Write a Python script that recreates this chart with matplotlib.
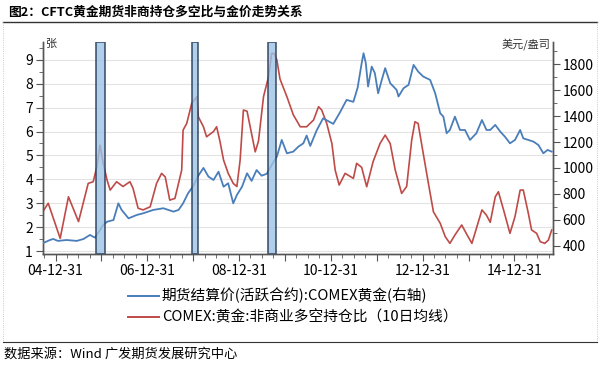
import matplotlib
matplotlib.use("Agg")
import matplotlib.pyplot as plt
import matplotlib.dates as mdates
from matplotlib.lines import Line2D
import numpy as np
import pandas as pd

plt.rcParams['font.family'] = ['Noto Sans CJK SC', 'DejaVu Sans']

title = "图2：CFTC黄金期货非商持仓多空比与金价走势关系"
source = "数据来源：Wind 广发期货发展研究中心"
label_gold = "期货结算价(活跃合约):COMEX黄金(右轴)"
label_ratio = "COMEX:黄金:非商业多空持仓比（10日均线）"

# 多空持仓比 (left axis)
ratio_dates = [
    "2004-09-20", "2004-11-03", "2005-02-06", "2005-04-13", "2005-07-02", "2005-08-08",
    "2005-09-17", "2005-10-27", "2005-11-25", "2005-12-20", "2006-01-15", "2006-02-14",
    "2006-03-11", "2006-05-01", "2006-06-21", "2006-08-15", "2006-09-09", "2006-10-19",
    "2006-11-28", "2007-01-23", "2007-03-15", "2007-04-24", "2007-05-23", "2007-06-28",
    "2007-08-08", "2007-10-01", "2007-10-12", "2007-11-10", "2007-12-20", "2008-01-30",
    "2008-02-10", "2008-03-22", "2008-04-16", "2008-05-16", "2008-06-10", "2008-07-05",
    "2008-07-31", "2008-08-29", "2008-10-05", "2008-11-14", "2008-12-13", "2009-01-08",
    "2009-02-03", "2009-03-04", "2009-03-29", "2009-05-08", "2009-06-03", "2009-07-13",
    "2009-08-22", "2009-09-16", "2009-10-05", "2009-10-27", "2009-11-21", "2010-01-15",
    "2010-03-07", "2010-05-01", "2010-06-21", "2010-08-15", "2010-09-24", "2010-10-19",
    "2010-11-28", "2011-01-08", "2011-02-03", "2011-03-07", "2011-04-23", "2011-06-28",
    "2011-07-24", "2011-09-02", "2011-10-12", "2011-12-02", "2012-01-26", "2012-03-07",
    "2012-04-16", "2012-05-26", "2012-07-16", "2012-08-25", "2012-10-04", "2012-10-30",
    "2012-11-24", "2013-01-04", "2013-02-14", "2013-03-26", "2013-05-19", "2013-06-28",
    "2013-08-04", "2013-09-13", "2013-11-06", "2013-12-16", "2014-01-26", "2014-03-07",
    "2014-04-16", "2014-05-22", "2014-06-21", "2014-07-31", "2014-08-25", "2014-10-05",
    "2014-11-25", "2015-01-04", "2015-02-14", "2015-03-11", "2015-04-20", "2015-05-16",
    "2015-06-25", "2015-07-24", "2015-08-29", "2015-09-27", "2015-10-23",
]
ratio_values = [
    2.64, 3.0, 1.53, 3.27, 2.23, 3.0,
    3.83, 3.9, 4.53, 5.43, 4.67, 3.97,
    3.55, 3.9, 3.7, 3.9, 3.62, 2.79,
    2.72, 2.85, 3.83, 4.25, 4.1, 3.13,
    3.2, 4.39, 6.06, 6.34, 7.18, 7.46,
    6.62, 6.2, 5.78, 5.9, 6.0, 6.2,
    5.6, 4.81, 4.25, 3.83, 3.7, 4.81,
    6.9, 6.85, 6.2, 5.15, 5.6, 7.46,
    8.29, 9.27, 9.27, 9.0, 8.2, 7.46,
    6.7, 6.2, 6.2, 6.48, 7.04, 6.9,
    6.34, 5.5, 4.39, 3.76, 4.25, 4.04,
    4.67, 4.5, 3.69, 4.74, 5.5, 5.85,
    5.5, 4.39, 3.41, 3.7, 5.64, 6.41,
    6.34, 5.08, 3.83, 2.64, 2.16, 1.6,
    1.32, 1.67, 2.09, 1.7, 1.32, 2.02,
    2.72, 2.5, 2.2, 3.27, 3.48, 2.72,
    1.74, 2.44, 3.55, 3.55, 2.58, 1.88,
    1.74, 1.39, 1.32, 1.46, 1.88,
]

# COMEX黄金 (right axis, 美元/盎司)
gold_dates = [
    "2004-09-20", "2004-11-17", "2004-12-13", "2005-01-19", "2005-03-29", "2005-06-18",
    "2005-08-11", "2005-10-01", "2005-11-10", "2005-12-20", "2006-01-15", "2006-02-14",
    "2006-04-06", "2006-05-15", "2006-06-10", "2006-08-04", "2006-10-08", "2006-11-28",
    "2007-02-17", "2007-05-08", "2007-07-27", "2007-09-06", "2007-10-12", "2007-11-21",
    "2008-01-01", "2008-02-10", "2008-03-22", "2008-05-01", "2008-06-10", "2008-07-20",
    "2008-08-29", "2008-10-05", "2008-11-14", "2008-12-13", "2009-01-23", "2009-03-04",
    "2009-04-09", "2009-05-19", "2009-06-28", "2009-08-08", "2009-09-16", "2009-10-27",
    "2009-12-05", "2010-01-15", "2010-03-07", "2010-04-16", "2010-05-26", "2010-06-21",
    "2010-07-20", "2010-09-09", "2010-10-30", "2011-01-19", "2011-03-14", "2011-05-05",
    "2011-06-28", "2011-08-01", "2011-09-02", "2011-09-17", "2011-10-05", "2011-10-23",
    "2011-11-21", "2011-12-16", "2012-01-11", "2012-02-09", "2012-03-07", "2012-04-16",
    "2012-06-06", "2012-06-21", "2012-07-31", "2012-09-09", "2012-10-19", "2012-11-24",
    "2013-01-04", "2013-02-28", "2013-04-09", "2013-05-19", "2013-06-13", "2013-07-09",
    "2013-08-04", "2013-09-13", "2013-10-23", "2013-12-02", "2014-01-11", "2014-03-03",
    "2014-04-16", "2014-05-22", "2014-06-21", "2014-07-31", "2014-09-09", "2014-10-16",
    "2014-11-25", "2015-01-04", "2015-02-14", "2015-03-11", "2015-04-20", "2015-05-31",
    "2015-07-09", "2015-08-18", "2015-09-20", "2015-10-23",
]
gold_values = [
    419, 444, 452, 437, 444, 437,
    452, 483, 462, 521, 560, 585,
    598, 727, 676, 611, 637, 650,
    676, 689, 663, 676, 727, 805,
    860, 940, 1000, 933, 907, 971,
    855, 882, 727, 791, 855, 959,
    900, 984, 940, 955, 1023, 1087,
    1216, 1113, 1126, 1164, 1190, 1250,
    1170, 1290, 1383, 1340, 1430, 1525,
    1510, 1620, 1808, 1885, 1808, 1628,
    1782, 1731, 1576, 1679, 1770, 1654,
    1602, 1551, 1615, 1641, 1795, 1744,
    1705, 1679, 1576, 1422, 1396, 1268,
    1293, 1396, 1293, 1293, 1216, 1268,
    1370, 1293, 1293, 1332, 1280, 1241,
    1190, 1216, 1293, 1228, 1216, 1203,
    1177, 1113, 1139, 1126,
]

# 高亮区间
span_starts = ["2005-11-18", "2007-12-20", "2009-08-15"]
span_ends = ["2006-01-25", "2008-02-10", "2009-10-20"]

ratio_x = pd.to_datetime(ratio_dates)
gold_x = pd.to_datetime(gold_dates)

blue = "#4A7EBB"
red = "#BE4B48"

fig = plt.figure(figsize=(6, 3.66), dpi=100)
ax = fig.add_axes([42.7 / 600, 1 - 254 / 366, 510 / 600, (254 - 41.7) / 366])
ax2 = ax.twinx()

ax.plot(ratio_x, ratio_values, color=red, lw=1.2, zorder=3)
ax2.plot(gold_x, gold_values, color=blue, lw=1.3, zorder=3)

for s, e in zip(span_starts, span_ends):
    ax2.axvspan(pd.Timestamp(s), pd.Timestamp(e), facecolor="#9DC3E6", alpha=0.8,
                edgecolor="#2B3F5C", lw=1.3, zorder=5)

ax.set_xlim(pd.Timestamp("2004-09-20"), pd.Timestamp("2015-10-31"))
ax.set_ylim(0.875, 9.76)
ax2.set_ylim(336, 1974)

ax.set_yticks(np.arange(1, 10, 1))
ax.set_yticks(np.arange(1.5, 10, 1), minor=True)
ax2.set_yticks(np.arange(400, 1801, 200))
ax2.set_yticks(np.arange(500, 1901, 200), minor=True)

ax.xaxis.set_major_locator(mdates.YearLocator(1, month=12, day=31))
ax.xaxis.set_minor_locator(mdates.MonthLocator(bymonth=[3, 6, 9, 12], bymonthday=-1))


def fmt_date(x, pos):
    d = mdates.num2date(x)
    if d.year % 2 == 0:
        return d.strftime("%y-%m-%d")
    return ""


ax.xaxis.set_major_formatter(plt.FuncFormatter(fmt_date))

ax.grid(axis="y", color="#E3E3E3", lw=0.8)
ax.set_axisbelow(True)

spine_c = "#555555"
for a in (ax, ax2):
    a.spines["top"].set_visible(False)
    for k in ("left", "right", "bottom"):
        a.spines[k].set_color(spine_c)
        a.spines[k].set_linewidth(1.0)
ax.tick_params(axis="both", which="major", length=5, color=spine_c, labelsize=10, pad=2)
ax.tick_params(axis="both", which="minor", length=3, color=spine_c)
ax2.tick_params(axis="y", which="major", length=5, color=spine_c, labelsize=10, pad=2)
ax2.tick_params(axis="y", which="minor", length=3, color=spine_c)

fig.text(45 / 600, 1 - 44 / 366, "张", fontsize=8, va="center", ha="left", color="#333333")
fig.text(550 / 600, 1 - 44 / 366, "美元/盎司", fontsize=8, va="center", ha="right", color="#333333")

handles = [Line2D([], [], color=blue, lw=1.4), Line2D([], [], color=red, lw=1.4)]
fig.legend(handles, [label_gold, label_ratio], loc="upper left",
           bbox_to_anchor=(128 / 600, 1 - 288 / 366), frameon=False, fontsize=10.6,
           handlelength=2.1, handletextpad=0.2, labelspacing=0.45, borderpad=0,
           borderaxespad=0)

fig.text(8 / 600, 1 - 12 / 366, title, fontsize=9.2, fontweight="bold", va="center", ha="left")
fig.text(4 / 600, 1 - 354 / 366, source, fontsize=9.5, va="center", ha="left")

fig.add_artist(Line2D([3 / 600, 597 / 600], [1 - 22 / 366, 1 - 22 / 366], color="#333333", lw=1.0))
fig.add_artist(Line2D([3 / 600, 597 / 600], [1 - 342 / 366, 1 - 342 / 366], color="#333333", lw=0.8))
for xx in (3, 597):
    fig.add_artist(Line2D([xx / 600, xx / 600], [1 - 22 / 366, 1 - 342 / 366], color="#BBBBBB",
                          lw=0.6, ls=":"))

fig.savefig("out.png", dpi=100)
